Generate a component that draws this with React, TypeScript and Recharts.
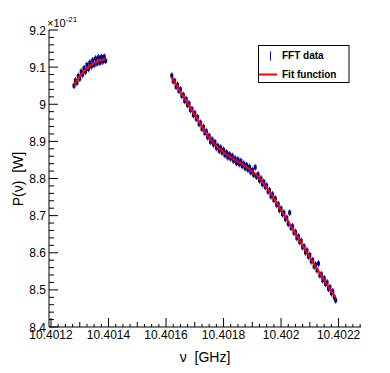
import React from 'react';
import { ComposedChart, Scatter, Line, XAxis, YAxis, ErrorBar } from 'recharts';

// FFT bins (uniform spacing, GHz)
const binWidth = 0.000005;
const leftStart = 10.40128;
const leftPower = [
  9.050, 9.064, 9.058, 9.076, 9.069, 9.088, 9.080, 9.097, 9.088, 9.106, 9.095, 9.112,
  9.102, 9.118, 9.106, 9.123, 9.110, 9.126, 9.112, 9.127, 9.115, 9.128, 9.117,
];
const rightStart = 10.40162;
const rightPower = [
  9.077, 9.062, 9.063, 9.047,
  9.052, 9.036, 9.040, 9.023,
  9.025, 9.009, 9.014, 8.998,
  9.002, 8.985, 8.987, 8.971,
  8.976, 8.961, 8.965, 8.947,
  8.950, 8.934, 8.939, 8.923,
  8.927, 8.911, 8.915, 8.899,
  8.905, 8.892, 8.898, 8.883,
  8.888, 8.875, 8.883, 8.870,
  8.877, 8.863, 8.870, 8.857,
  8.865, 8.854, 8.861, 8.848,
  8.854, 8.842, 8.851, 8.839,
  8.847, 8.834, 8.840, 8.828,
  8.836, 8.824, 8.831, 8.817,
  8.823, 8.810, 8.830, 8.805,
  8.811, 8.795, 8.800, 8.785,
  8.791, 8.777, 8.781, 8.765,
  8.768, 8.752, 8.757, 8.742,
  8.746, 8.729, 8.731, 8.715,
  8.719, 8.704, 8.708, 8.691,
  8.694, 8.678, 8.708, 8.667,
  8.671, 8.654, 8.656, 8.640,
  8.644, 8.629, 8.632, 8.615,
  8.617, 8.601, 8.606, 8.590,
  8.594, 8.577, 8.580, 8.563,
  8.568, 8.553, 8.571, 8.539,
  8.542, 8.526, 8.531, 8.516,
  8.520, 8.503, 8.507, 8.491,
  8.496, 8.480, 8.472,
];
const powerError = 0.009;

// Fit function samples
const fitLeftFreq = [10.40128, 10.40129, 10.4013, 10.40131, 10.40132, 10.40133, 10.40134, 10.40135, 10.40136, 10.40137, 10.40138, 10.40139];
const fitLeftPower = [9.053, 9.064, 9.075, 9.085, 9.093, 9.100, 9.106, 9.111, 9.115, 9.118, 9.120, 9.122];
const fitRightFreq = [
  10.40162, 10.40164, 10.40166, 10.40168, 10.4017, 10.40172, 10.40174, 10.40176, 10.40178, 10.4018,
  10.40182, 10.40184, 10.40186, 10.40188, 10.4019, 10.40192, 10.40194, 10.40196, 10.40198, 10.402,
  10.40202, 10.40204, 10.40206, 10.40208, 10.4021, 10.40212, 10.40214, 10.40216, 10.40218, 10.40219,
];
const fitRightPower = [
  9.071, 9.047, 9.021, 8.996, 8.971, 8.946, 8.921, 8.900, 8.884, 8.871,
  8.860, 8.850, 8.841, 8.831, 8.819, 8.805, 8.786, 8.764, 8.740, 8.714,
  8.690, 8.665, 8.639, 8.613, 8.588, 8.563, 8.538, 8.514, 8.491, 8.480,
];

// Axes
const xDomain: [number, number] = [10.401193, 10.402278];
const yDomain: [number, number] = [8.4, 9.2];
const xTickOrigin = 10.4012;
const xTickStep = 0.000025;
const xMajorLabels = ['10.4012', '10.4014', '10.4016', '10.4018', '10.402', '10.4022'];
const yTickOrigin = 8.4;
const yTickStep = 0.02;
const yMajorLabels = ['8.4', '8.5', '8.6', '8.7', '8.8', '8.9', '9', '9.1', '9.2'];

const xTicks: number[] = [];
for (let k = 0; xTickOrigin + k * xTickStep <= xDomain[1]; k++) xTicks.push(xTickOrigin + k * xTickStep);
const yTicks: number[] = [];
for (let j = 0; j <= 40; j++) yTicks.push(yTickOrigin + j * yTickStep);

const leftData = leftPower.map((p, i) => ({ f: leftStart + i * binWidth, p, e: powerError }));
const rightData = rightPower.map((p, i) => ({ f: rightStart + i * binWidth, p, e: powerError }));
const fitLeft = fitLeftFreq.map((f, i) => ({ f, p: fitLeftPower[i] }));
const fitRight = fitRightFreq.map((f, i) => ({ f, p: fitRightPower[i] }));

const FONT = '"Liberation Sans", Arial, Helvetica, sans-serif';

const XTick = (props: any) => {
  const { x, y, payload } = props;
  const k = Math.round((payload.value - xTickOrigin) / xTickStep);
  const len = k % 8 === 0 ? 9 : k % 4 === 0 ? 5 : 3;
  return (
    <g>
      <line x1={x} x2={x} y1={y} y2={y - len} stroke="#000" strokeWidth={1} />
      {k % 8 === 0 && (
        <text x={x} y={y + 11.5} textAnchor="middle" fontSize={12} fontFamily={FONT} fill="#000">
          {xMajorLabels[k / 8]}
        </text>
      )}
    </g>
  );
};

const YTick = (props: any) => {
  const { x, y, payload } = props;
  const j = Math.round((payload.value - yTickOrigin) / yTickStep);
  const major = j % 5 === 0;
  return (
    <g>
      <line x1={x} x2={x + (major ? 9 : 5)} y1={y} y2={y} stroke="#000" strokeWidth={1} />
      {major && (
        <text x={x - 3} y={y + 4.5} textAnchor="end" fontSize={12} fontFamily={FONT} fill="#000">
          {yMajorLabels[j / 5]}
        </text>
      )}
    </g>
  );
};

const Dot = (props: any) => {
  const { cx, cy } = props;
  if (cx == null || cy == null) return null;
  return <rect x={cx - 1.5} y={cy - 2} width={3} height={4} fill="#000020" />;
};

export default function App() {
  return (
    <div style={{ position: 'absolute', left: 0, top: 0, width: 390, height: 373, background: '#fff', fontFamily: FONT }}>
      <ComposedChart width={390} height={373} margin={{ top: 30, right: 29, bottom: 0, left: 0 }}>
        <XAxis
          xAxisId="main"
          type="number"
          dataKey="f"
          domain={xDomain}
          allowDataOverflow
          ticks={xTicks}
          interval={0}
          tickSize={0}
          tickMargin={0}
          tick={<XTick />}
          axisLine={{ stroke: '#000' }}
          tickLine={false}
          height={46}
        />
        <XAxis xAxisId="top" orientation="top" type="number" domain={xDomain} allowDataOverflow height={0} tick={false} tickLine={false} axisLine={{ stroke: '#8c8c8c' }} />
        <YAxis
          yAxisId="main"
          type="number"
          dataKey="p"
          domain={yDomain}
          allowDataOverflow
          ticks={yTicks}
          interval={0}
          tickSize={0}
          tickMargin={0}
          tick={<YTick />}
          axisLine={{ stroke: '#000' }}
          tickLine={false}
          width={49}
        />
        <YAxis yAxisId="right" orientation="right" type="number" domain={yDomain} allowDataOverflow width={0} tick={false} tickLine={false} axisLine={{ stroke: '#8c8c8c' }} />
        <Scatter xAxisId="main" yAxisId="main" data={leftData} dataKey="p" shape={<Dot />} isAnimationActive={false} {...({ zIndex: 300 } as any)}>
          <ErrorBar dataKey="e" direction="y" width={0} stroke="#0000ff" strokeWidth={1} />
        </Scatter>
        <Scatter xAxisId="main" yAxisId="main" data={rightData} dataKey="p" shape={<Dot />} isAnimationActive={false} {...({ zIndex: 300 } as any)}>
          <ErrorBar dataKey="e" direction="y" width={0} stroke="#0000ff" strokeWidth={1} />
        </Scatter>
        <Line xAxisId="main" yAxisId="main" data={fitLeft} dataKey="p" type="monotone" stroke="#ff0000" strokeWidth={2} dot={false} isAnimationActive={false} {...({ zIndex: 900 } as any)} />
        <Line xAxisId="main" yAxisId="main" data={fitRight} dataKey="p" type="monotone" stroke="#ff0000" strokeWidth={2} dot={false} isAnimationActive={false} {...({ zIndex: 900 } as any)} />
      </ComposedChart>
      <svg width={390} height={373} style={{ position: 'absolute', left: 0, top: 0, pointerEvents: 'none' }}>
        <text x={47} y={27} fontSize={11} fontFamily={FONT} fill="#000">
          ×10
          <tspan dy={-5} fontSize={8}>-21</tspan>
        </text>
        <text transform="translate(23,179) rotate(-90)" textAnchor="middle" fontSize={14} fontFamily={FONT} fill="#000" style={{ whiteSpace: 'pre' }}>
          {'P(ν)  [W]'}
        </text>
        <text x={205} y={362} textAnchor="middle" fontSize={14} fontFamily={FONT} fill="#000" style={{ whiteSpace: 'pre' }}>
          {'ν  [GHz]'}
        </text>
        <rect x={258.5} y={45.5} width={90.5} height={37} fill="#fff" stroke="#000" strokeWidth={1} />
        <line x1={270.5} x2={270.5} y1={51.5} y2={60.5} stroke="#0000ff" strokeWidth={1} />
        <rect x={270} y={55} width={1} height={2} fill="#000020" />
        <line x1={259} x2={277} y1={74.5} y2={74.5} stroke="#ff0000" strokeWidth={2} />
        <text x={282} y={59} fontSize={10} fontWeight="bold" fontFamily={FONT} fill="#000">FFT data</text>
        <text x={282} y={78} fontSize={10} fontWeight="bold" fontFamily={FONT} fill="#000">Fit function</text>
      </svg>
    </div>
  );
}
